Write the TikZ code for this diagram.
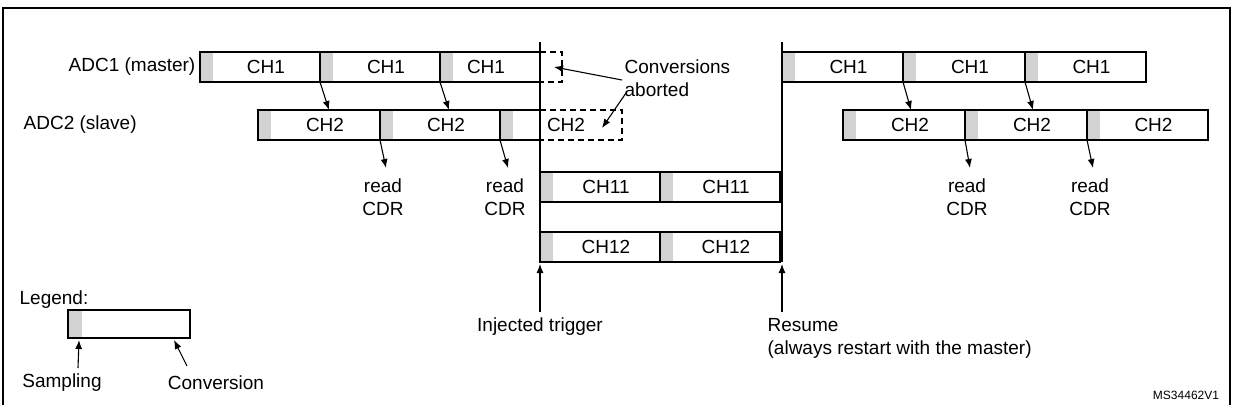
\documentclass[tikz,border=0pt]{standalone}
\usepackage{fontspec}
\setmainfont{Liberation Sans}
\usetikzlibrary{arrows.meta}
\begin{document}
\begin{tikzpicture}[x=1pt,y=-1pt,line width=1.3pt,
  lbl/.style={font=\fontsize{19}{21}\selectfont,inner sep=1pt},
  two/.style={font=\fontsize{19}{23}\selectfont},
  arr/.style={-{Latex[length=9pt,width=7pt]},line width=1.1pt},
  dbox/.style={draw,dash pattern=on 6pt off 4pt}]
\useasboundingbox (0,0) rectangle (1233,405);
\draw[line width=2.5pt] (3,405) -- (3,8) -- (1230,8) -- (1230,405);
\newcommand{\mycell}[5]{%
  \fill[gray!35] (#2,#4) rectangle ({#2+13},{#4+30});
  \draw (#2,#4) rectangle (#3,{#4+30});
  \node[lbl] (#1) at ({(#2+#3)/2+6},{#4+15}) {#5};}
% ADC1 left
\mycell{a1}{200}{320}{52}{CH1}
\mycell{a2}{320}{440}{52}{CH1}
\fill[gray!35] (440,52) rectangle (453,82);
\draw (540,52) -- (440,52) -- (440,82) -- (540,82);
\node[lbl] (a3) at (486,67) {CH1};
\draw[dbox] (540,52) -- (562,52) -- (562,82) -- (540,82);
\coordinate (d1) at (554,67);
% ADC2 left
\mycell{b1}{258}{380}{110}{CH2}
\mycell{b2}{380}{500}{110}{CH2}
\fill[gray!35] (500,110) rectangle (513,140);
\draw (540,110) -- (500,110) -- (500,140) -- (540,140);
\node[lbl] (b3) at (566,125) {CH2};
\draw[dbox] (540,110) -- (622,110) -- (622,140) -- (540,140);
\coordinate (d2) at (602,128);
\node[lbl,anchor=east] (l1) at (197,67) {ADC1 (master)};
\node[lbl,anchor=west] (l2) at (22,125) {ADC2 (slave)};
% right
\mycell{c1}{782}{903}{52}{CH1}
\mycell{c2}{903}{1025}{52}{CH1}
\mycell{c3}{1025}{1146}{52}{CH1}
\mycell{e1}{843}{965}{110}{CH2}
\mycell{e2}{965}{1087}{110}{CH2}
\mycell{e3}{1087}{1208}{110}{CH2}
% injected
\mycell{f1}{540}{660}{172}{CH11}
\mycell{f2}{660}{780}{172}{CH11}
\mycell{g1}{540}{660}{232}{CH12}
\mycell{g2}{660}{780}{232}{CH12}
% vertical lines
\coordinate (v1t) at (540,42); \coordinate (v1b) at (540,262);
\coordinate (v2t) at (782,42); \coordinate (v2b) at (782,262);
\draw (v1t) -- (v1b);
\draw (v2t) -- (v2b);
% master-slave arrows
\foreach \xa/\xb in {320/329,440/449,903/911,1025/1033}{
  \draw[arr] (\xa,82) -- (\xb,110);}
% read CDR
\foreach \xa/\xb in {380/386,500/508,965/970,1087/1093}{
  \draw[arr] (\xa,140) -- (\xb,168);
  \node[lbl,align=center,two] at (\xb-3,197) {read\\CDR};}
% conversions aborted
\node[lbl,align=left,anchor=west,two] (ca) at (623,78) {Conversions\\aborted};
\draw[arr] (622,80) -- (d1);
\draw[arr] (626,93) -- (d2);
% triggers
\coordinate (t1) at (540,312); \coordinate (t2) at (782,312);
\draw[arr] (t1) -- (540,264);
\draw[arr] (t2) -- (782,264);
\node[lbl] (it) at (540,327) {Injected trigger};
\node[lbl,anchor=west,align=left,two] (rs) at (766,338) {Resume\\(always restart with the master)};
% legend
\node[lbl,anchor=west] (lg) at (18,300) {Legend:};
\fill[gray!35] (68,310) rectangle (82,338);
\draw (68,310) rectangle (190,338);
\draw[arr] (78,368) -- (79,340);
\draw[arr] (187,366) -- (174,340);
\node[lbl] (sp) at (62,383) {Sampling};
\node[lbl] (cv) at (216,383) {Conversion};
\node[font=\fontsize{12}{14}\selectfont] (ms) at (1186,395) {MS34462V1};
\end{tikzpicture}
\end{document}
